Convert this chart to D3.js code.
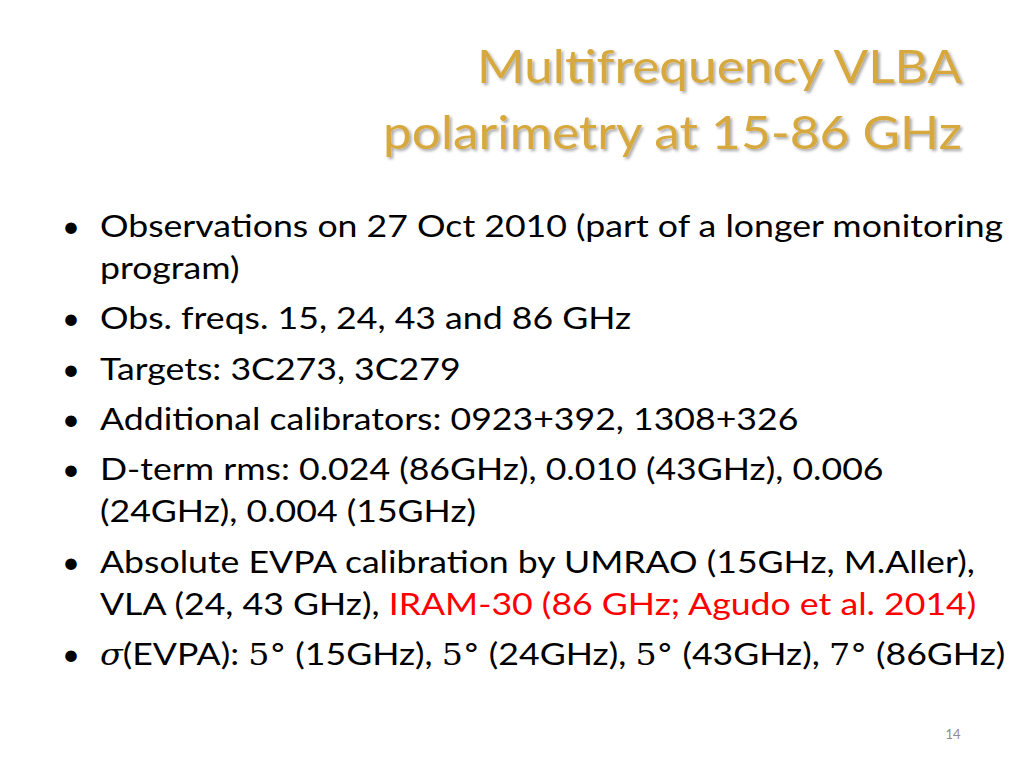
<!DOCTYPE html>
<html><head><meta charset="utf-8">
<script src="https://cdn.jsdelivr.net/npm/d3@7"></script>
<style>body{margin:0;background:#fff}</style></head>
<body><svg id="s" width="1024" height="768"></svg>
<script>
const titleLines = ["Multifrequency VLBA", "polarimetry at 15-86 GHz"];
const bodyLines = [
  [true, [["Observations on 27 Oct 2010 (part of a longer monitoring","n"]]],
  [false,[["program)","n"]]],
  [true, [["Obs. freqs. 15, 24, 43 and 86 GHz","n"]]],
  [true, [["Targets: 3C273, 3C279","n"]]],
  [true, [["Additional calibrators: 0923+392, 1308+326","n"]]],
  [true, [["D-term rms: 0.024 (86GHz), 0.010 (43GHz), 0.006","n"]]],
  [false,[["(24GHz), 0.004 (15GHz)","n"]]],
  [true, [["Absolute EVPA calibration by UMRAO (15GHz, M.Aller),","n"]]],
  [false,[["VLA (24, 43 GHz),  ","n"],["IRAM-30 (86 GHz; Agudo et al. 2014)","r"]]],
  [true, [["σ","m"],["(EVPA): ","n"],["5°","m"],[" (15GHz), ","n"],["5°","m"],[" (24GHz), ","n"],["5°","m"],[" (43GHz), ","n"],["7°","m"],[" (86GHz)","n"]]]
];
const baselines = [237,279,329,380,430,480,522,573,615,665];
const pageNum = "14";

const svg = d3.select("#s");
const defs = svg.append("defs");
const f = defs.append("filter").attr("id","sh");
f.append("feDropShadow").attr("dx",2).attr("dy",2).attr("stdDeviation",1.5).attr("flood-color","#000").attr("flood-opacity",0.35);
const ty = d3.scaleOrdinal().domain(titleLines).range([83,149]);
svg.selectAll("text.t").data(titleLines).join("text").attr("class","t")
  .attr("x",962).attr("y",d=>ty(d)).attr("text-anchor","end")
  .attr("font-family","Lato, sans-serif").attr("font-size",46)
  .attr("fill","#D6A83C").attr("filter","url(#sh)").text(d=>d)
  .attr("textLength",(d,i)=>i===0?485:579).attr("lengthAdjust","spacingAndGlyphs");

const g = svg.append("g").attr("font-family","Lato, sans-serif").attr("font-size",31).attr("fill","#000");
const widths = [893,null,null,null,null,null,null,null,null,null];
bodyLines.forEach((ln,i)=>{
  const y = baselines[i];
  if(ln[0]) g.append("text").attr("x",62).attr("y",y).text("•");
  const t = g.append("text").attr("x",100).attr("y",y);
  ln[1].forEach(([s,st])=>{
    const sp=t.append("tspan").text(s);
    if(st==="r") sp.attr("fill","#FF0000");
    if(st==="m") sp.attr("font-family","DejaVu Serif, serif").attr("font-style", s==="σ"?"italic":"normal").attr("font-size",29);
  });
  // stretch horizontally to match reference widths
  const w = t.node().getComputedTextLength();
  t.attr("transform",`translate(100,0) scale(1.15,1) translate(-100,0)`);
});
svg.append("text").attr("x",953).attr("y",739).attr("text-anchor","middle")
  .attr("font-family","Lato, sans-serif").attr("font-size",13).attr("fill","#8c8c8c").text(pageNum);
</script></body></html>
